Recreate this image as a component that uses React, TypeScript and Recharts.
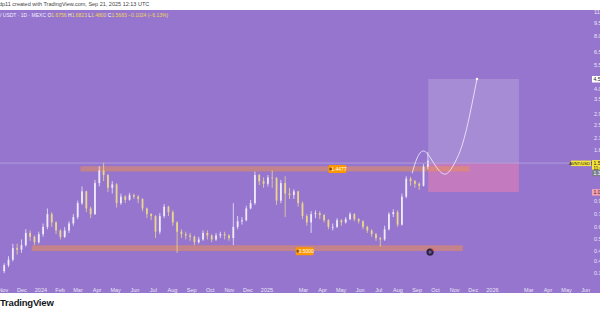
import React from "react";
import {
  ComposedChart,
  Bar,
  Line,
  XAxis,
  YAxis,
  ReferenceArea,
  ReferenceLine,
  ReferenceDot,
} from "recharts";

const BG = "#9575cd";
const UP = "#efeafc";
const DOWN = "#ecd68e";
const TXT = "#ebe6f7";
const FONT = "'Liberation Sans', Arial, sans-serif";

const DAY = 86400000;
const EPOCH = Date.UTC(2023, 10, 1);
const day = (iso: string) => (Date.parse(iso + "T00:00:00Z") - EPOCH) / DAY;

// weekly candles, first week starts Mon 30 Oct 2023
const firstWeek = "2023-10-30";
const firstOpen = 0.37;
const closes = [
  0.40, 0.43, 0.50, 0.49, 0.52, 0.61, 0.58, 0.54, 0.60, 0.66,
  0.78, 0.70, 0.63, 0.58, 0.63, 0.69, 0.75, 0.90, 1.05, 0.84,
  0.78, 1.17, 1.38, 1.30, 1.10, 1.15, 0.90, 0.98, 0.94, 1.00,
  0.98, 0.95, 0.84, 0.78, 0.76, 0.62, 0.76, 0.86, 0.80, 0.70,
  0.62, 0.60, 0.59, 0.58, 0.54, 0.56, 0.61, 0.59, 0.56, 0.59,
  0.60, 0.59, 0.57, 0.66, 0.71, 0.72, 0.84, 0.90, 1.30, 1.20,
  1.16, 1.26, 1.25, 0.93, 1.17, 1.02, 1.00, 1.05, 0.90, 0.76,
  0.70, 0.78, 0.79, 0.77, 0.72, 0.66, 0.66, 0.72, 0.70, 0.73,
  0.78, 0.73, 0.71, 0.66, 0.63, 0.60, 0.57, 0.56, 0.64, 0.78,
  0.80, 0.68, 0.98, 1.24, 1.20, 1.16, 1.13, 1.45, 1.568,
];
const highs = [
  0.41, 0.45, 0.53, 0.53, 0.56, 0.64, 0.63, 0.59, 0.62, 0.69,
  0.84, 0.80, 0.71, 0.64, 0.66, 0.71, 0.78, 0.93, 1.12, 1.06,
  0.86, 1.22, 1.46, 1.53, 1.32, 1.20, 1.17, 1.02, 1.00, 1.03,
  1.02, 1.00, 0.96, 0.85, 0.79, 0.77, 0.79, 0.89, 0.87, 0.82,
  0.71, 0.64, 0.62, 0.61, 0.59, 0.58, 0.63, 0.63, 0.60, 0.61,
  0.62, 0.62, 0.60, 0.90, 0.76, 0.75, 0.87, 0.94, 1.36, 1.32,
  1.26, 1.30, 1.38, 1.27, 1.22, 1.28, 1.10, 1.08, 1.06, 0.92,
  0.78, 0.81, 0.82, 0.81, 0.78, 0.73, 0.69, 0.74, 0.73, 0.75,
  0.80, 0.79, 0.74, 0.72, 0.67, 0.64, 0.61, 0.58, 0.67, 0.80,
  0.83, 0.82, 1.02, 1.28, 1.27, 1.22, 1.18, 1.50, 1.76,
];
const lows = [
  0.36, 0.39, 0.42, 0.46, 0.47, 0.51, 0.55, 0.52, 0.53, 0.58,
  0.64, 0.66, 0.60, 0.56, 0.57, 0.61, 0.67, 0.73, 0.88, 0.80,
  0.74, 0.77, 1.12, 1.20, 1.04, 1.02, 0.85, 0.88, 0.90, 0.93,
  0.95, 0.90, 0.81, 0.74, 0.72, 0.57, 0.60, 0.74, 0.76, 0.67,
  0.47, 0.57, 0.56, 0.55, 0.52, 0.53, 0.55, 0.56, 0.54, 0.55,
  0.57, 0.56, 0.55, 0.52, 0.64, 0.68, 0.71, 0.83, 0.88, 1.14,
  1.10, 1.12, 1.10, 0.88, 0.90, 0.75, 0.95, 0.95, 0.86, 0.73,
  0.67, 0.61, 0.74, 0.73, 0.70, 0.64, 0.63, 0.65, 0.67, 0.69,
  0.72, 0.71, 0.69, 0.64, 0.61, 0.58, 0.55, 0.51, 0.55, 0.63,
  0.75, 0.66, 0.67, 0.96, 1.13, 1.10, 1.07, 1.12, 1.40,
];

const months: [string, string][] = [
  ["2023-11-01", "Nov"], ["2023-12-01", "Dec"], ["2024-01-01", "2024"],
  ["2024-02-01", "Feb"], ["2024-03-01", "Mar"], ["2024-04-01", "Apr"],
  ["2024-05-01", "May"], ["2024-06-01", "Jun"], ["2024-07-01", "Jul"],
  ["2024-08-01", "Aug"], ["2024-09-01", "Sep"], ["2024-10-01", "Oct"],
  ["2024-11-01", "Nov"], ["2024-12-01", "Dec"], ["2025-01-01", "2025"],
  ["2025-03-01", "Mar"], ["2025-04-01", "Apr"], ["2025-05-01", "May"],
  ["2025-06-01", "Jun"], ["2025-07-01", "Jul"], ["2025-08-01", "Aug"],
  ["2025-09-01", "Sep"], ["2025-10-01", "Oct"], ["2025-11-01", "Nov"],
  ["2025-12-01", "Dec"], ["2026-01-01", "2026"], ["2026-03-01", "Mar"],
  ["2026-04-01", "Apr"], ["2026-05-01", "May"], ["2026-06-01", "Jun"],
];

const priceTicks = [11, 9.5, 8, 6.5, 5.5, 4, 3.5, 2.9, 2.5, 2.1, 1.8, 0.92, 0.78, 0.66, 0.56, 0.48, 0.42, 0.36];

// drawn levels and long-position tool
const resistance = { from: "2024-03-05", to: "2025-11-25", lo: 1.36, hi: 1.46, tag: "1.4477", tagAt: "2025-04-25" };
const support = { from: "2023-12-17", to: "2025-11-14", lo: 0.482, hi: 0.52, tag: "0.5000", tagAt: "2025-03-03" };
const position = { from: "2025-09-19", to: "2026-02-13", entry: 1.52, target: 4.56, stop: 1.04 };
const lastPrice = 1.5683;

// hand-drawn projection curve
const projDates = ["2025-08-24", "2025-09-01", "2025-09-11", "2025-09-22", "2025-10-03", "2025-10-16", "2025-10-29", "2025-11-13", "2025-11-26", "2025-12-07"];
const projPrices = [1.33, 1.62, 1.78, 1.64, 1.43, 1.315, 1.46, 1.92, 2.93, 4.56];

const candles = closes.map((c, i) => {
  const o = i === 0 ? firstOpen : closes[i - 1];
  return { t: day(firstWeek) + 7 * i + 3.5, o, c, h: highs[i], l: lows[i], range: [lows[i], highs[i]] };
});
const projection = projDates.map((d, i) => ({ t: day(d), p: projPrices[i] }));
const timeLabels = new Map(months.map(([d, s]) => [day(d), s]));

function Candle(props: any) {
  const { x, y, width, height, payload } = props;
  if (!payload || x == null) return null;
  const top = Math.min(y, y + height);
  const bot = Math.max(y, y + height);
  const span = Math.log(payload.h) - Math.log(payload.l);
  const py = (v: number) => (span > 0 ? top + ((bot - top) * (Math.log(payload.h) - Math.log(v))) / span : top);
  const yo = py(payload.o);
  const yc = py(payload.c);
  const col = payload.c >= payload.o ? UP : DOWN;
  const cx = x + width / 2;
  return (
    <g>
      <line x1={cx} x2={cx} y1={top} y2={bot} stroke={col} strokeWidth={0.8} />
      <rect x={cx - 0.9} y={Math.min(yo, yc)} width={1.8} height={Math.max(0.8, Math.abs(yc - yo))} fill={col} />
    </g>
  );
}

const TimeTick = (p: any) => {
  const s = timeLabels.get(p.payload.value) || "";
  return (
    <text x={p.x} y={p.y + 11} textAnchor="middle" fontSize={5.5} fill={TXT} fontFamily={FONT}>
      {s}
    </text>
  );
};

const PriceTick = (p: any) => (
  <text x={594} y={p.y + 2} fontSize={5.5} fill={TXT} fontFamily={FONT}>
    {Number(p.payload.value).toFixed(4)}
  </text>
);

const levelTag = (text: string) => (p: any) => (
  <g>
    <rect x={p.cx - 9} y={p.cy - 4} width={18} height={8} rx={1.5} fill="#ff9800" />
    <rect x={p.cx - 8} y={p.cy - 1.3} width={2.4} height={2.4} fill="#7a4a1c" />
    <text x={p.cx + 1.6} y={p.cy + 1.9} fontSize={5} fill="#fff" textAnchor="middle" fontFamily={FONT}>
      {text}
    </text>
  </g>
);

const sideTag = (bg: string, fg: string, text: string) => (p: any) => {
  const y = p.viewBox ? p.viewBox.y : 0;
  return (
    <g fontFamily={FONT}>
      <rect x={592} y={y - 3} width={30} height={6.5} fill={bg} />
      <text x={593.5} y={y + 1.9} fontSize={5} fill={fg}>{text}</text>
    </g>
  );
};

const lastTag = (p: any) => {
  const y = p.viewBox ? p.viewBox.y : 0;
  return (
    <g fontFamily={FONT}>
      <rect x={571} y={y - 2.5} width={20} height={5.5} fill="#f5e43c" />
      <text x={581} y={y + 1.6} fontSize={4.2} fill="#222" textAnchor="middle">AVNT/USDT</text>
      <rect x={592} y={y - 3} width={30} height={11} fill="#f5e43c" />
      <text x={593.5} y={y + 1.9} fontSize={5} fill="#222">{lastPrice.toFixed(4)}</text>
      <text x={593.5} y={y + 6.8} fontSize={4.5} fill="#222">11:46:52</text>
    </g>
  );
};

const EventMark = (p: any) => (
  <g>
    <circle cx={p.cx} cy={p.cy} r={3.6} fill="#2b2140" />
    <circle cx={p.cx} cy={p.cy} r={1.6} fill="#6b5a94" />
    <circle cx={p.cx + 2.4} cy={p.cy - 2.4} r={1} fill="#e53935" />
  </g>
);

export default function App() {
  return (
    <div style={{ position: "absolute", left: 0, top: 0, width: 600, height: 315, background: "#fff", overflow: "hidden", fontFamily: FONT }}>
      <div style={{ position: "absolute", left: -1, top: 1, fontSize: 5.5, color: "#444", whiteSpace: "nowrap" }}>
        dp11 created with TradingView.com, Sep 21, 2025 12:13 UTC
      </div>
      <div style={{ position: "absolute", left: 0, top: 10 }}>
        <ComposedChart
          width={600}
          height={283}
          data={candles}
          margin={{ top: 0, right: 0, bottom: 0, left: 0 }}
          style={{ background: BG }}
        >
          <XAxis
            dataKey="t"
            type="number"
            domain={[-5.3, 964.6]}
            allowDataOverflow
            ticks={months.map(([d]) => day(d))}
            tick={<TimeTick />}
            tickLine={false}
            axisLine={false}
            tickSize={0}
            height={14}
            interval={0}
          />
          <YAxis
            orientation="right"
            scale="log"
            domain={[0.334, 11.24]}
            allowDataOverflow
            ticks={priceTicks}
            tick={<PriceTick />}
            tickLine={false}
            axisLine={false}
            width={1}
            interval={0}
          />
          <ReferenceArea x1={day(position.from)} x2={day(position.to)} y1={position.entry} y2={position.target} fill="#ffffff" fillOpacity={0.16} stroke="none" />
          <ReferenceArea x1={day(position.from)} x2={day(position.to)} y1={position.stop} y2={position.entry} fill="#f27fb0" fillOpacity={0.5} stroke="none" />
          <Bar dataKey="range" barSize={2} shape={<Candle />} isAnimationActive={false} />
          <ReferenceArea x1={day(resistance.from)} x2={day(resistance.to)} y1={resistance.lo} y2={resistance.hi} fill="#f2914e" fillOpacity={0.5} stroke="none" />
          <ReferenceArea x1={day(support.from)} x2={day(support.to)} y1={support.lo} y2={support.hi} fill="#f2914e" fillOpacity={0.5} stroke="none" />
          <ReferenceLine y={position.entry} stroke="#b5a8de" strokeWidth={0.8} label={lastTag} />
          <ReferenceLine y={position.target} stroke="none" label={sideTag("#ffffff", "#222", "4.5600")} />
          <ReferenceLine y={1.34} stroke="none" label={sideTag("#7b7f8e", "#fff", "1.3400")} />
          <ReferenceLine y={position.stop} stroke="none" label={sideTag("#f7a1b4", "#222", "1.0400")} />
          <Line
            data={projection}
            dataKey="p"
            type="natural"
            stroke="#ece6fb"
            strokeWidth={0.9}
            dot={false}
            isAnimationActive={false}
          />
          <ReferenceDot x={projection[projection.length - 1].t} y={projPrices[projPrices.length - 1]} r={1.2} fill="#ffffff" stroke="none" />
          <ReferenceDot x={day(resistance.tagAt)} y={1.405} shape={levelTag(resistance.tag)} />
          <ReferenceDot x={day(support.tagAt)} y={0.48} shape={levelTag(support.tag)} />
          <ReferenceDot x={day("2025-09-22")} y={0.475} shape={EventMark} />
        </ComposedChart>
      </div>
      <div style={{ position: "absolute", left: 0, top: 12, fontSize: 5, color: "#f4f0ff", whiteSpace: "nowrap" }}>
        / USDT · 1D · MEXC{"  "}
        <span style={{ color: "#fff" }}>O</span><span style={{ color: "#f3d65a" }}>1.6756 </span>
        <span style={{ color: "#fff" }}>H</span><span style={{ color: "#f3d65a" }}>1.6823 </span>
        <span style={{ color: "#fff" }}>L</span><span style={{ color: "#f3d65a" }}>1.4800 </span>
        <span style={{ color: "#fff" }}>C</span><span style={{ color: "#f3d65a" }}>1.5683 −0.1024 (−6.13%)</span>
      </div>
      <div style={{ position: "absolute", left: 0, top: 297, fontSize: 9.5, fontWeight: 700, color: "#131722", letterSpacing: -0.2 }}>
        TradingView
      </div>
    </div>
  );
}
